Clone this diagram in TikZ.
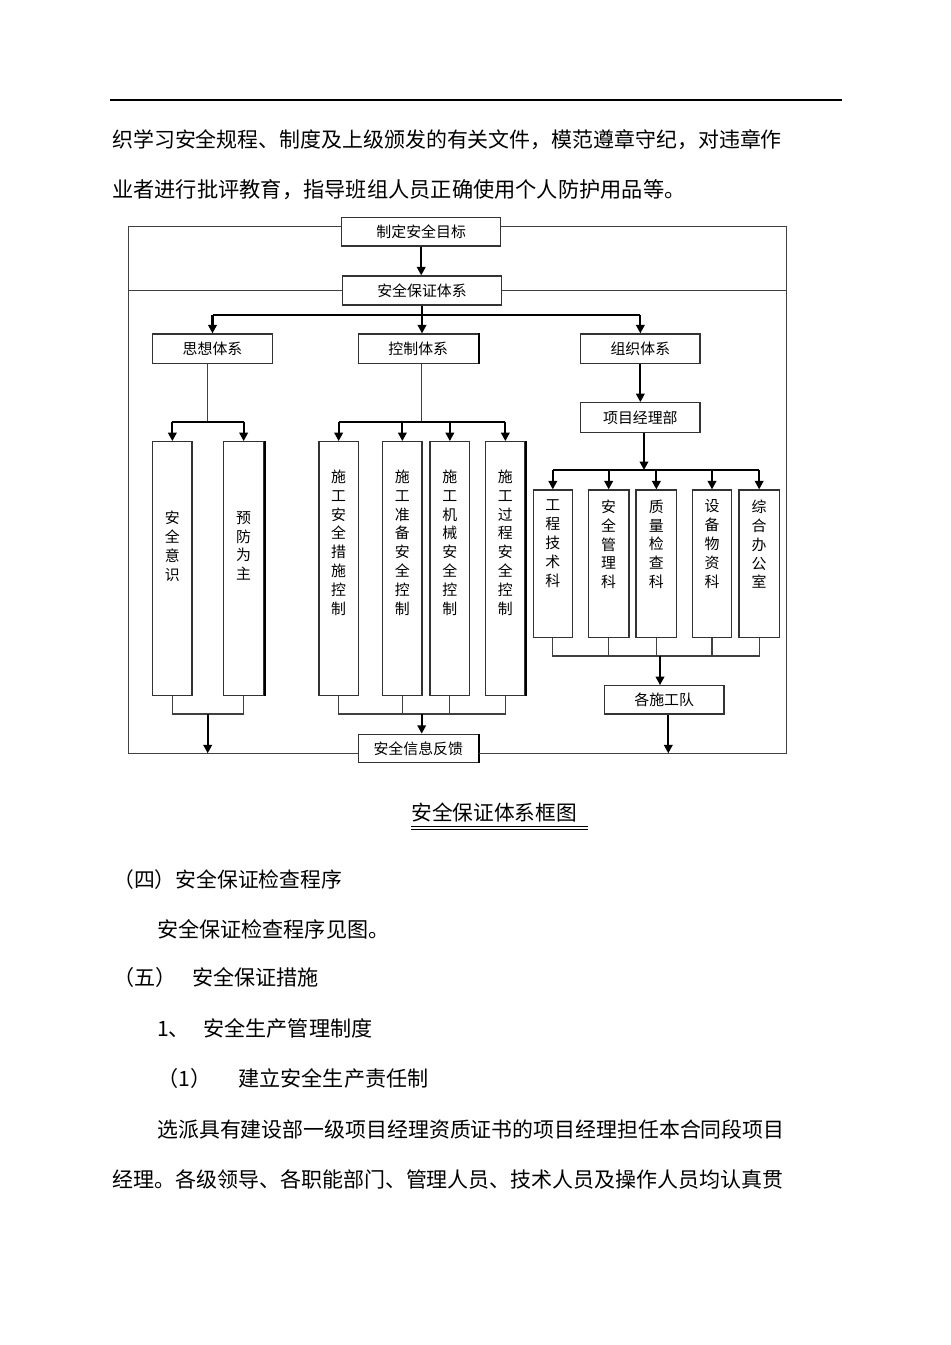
\documentclass[tikz,border=0pt]{standalone}
\usepackage{fontspec}
\newfontfamily\cjk{Noto Sans CJK SC}
\usetikzlibrary{positioning,fit,arrows.meta}

\tikzset{
  box/.style={draw=black!80, line width=0.85pt, inner sep=0pt, fit={#1}},
  lbl/.style={inner sep=0pt, font=\cjk\fontsize{10.6}{12}\selectfont},
  vtext/.style={align=center, inner sep=0pt, anchor=north,
    font=\cjk\fontsize{10.6}{13.45}\selectfont},
  edge/.style={draw=black, line width=1.4pt},
  thn/.style={draw=black!75, line width=0.75pt},
  thk/.style={draw=black, line width=1.6pt},
  arr/.style={-{Triangle[length=6pt,width=6pt]}},
  body/.style={anchor=west, inner sep=0pt, text height=12.8pt, text depth=2.2pt,
    font=\cjk\fontsize{#1}{18}\selectfont},
  body/.default=15
}

\begin{document}
\begin{tikzpicture}[x=0.025cm, y=-0.025cm]
  \useasboundingbox (0,0) rectangle (950,1345);

  % Kopflinie und Text davor
  \draw[line width=0.9pt] (110,100) -- (842,100);
  \node[body=14.88] (p1) at (112,140) {织学习安全规程、制度及上级颁发的有关文件，模范遵章守纪，对违章作};
  \node[body=15.1] (p2) at (112,190) {业者进行批评教育，指导班组人员正确使用个人防护用品等。};

  % Kaesten oben
  \node[box={(341.7,217.3) (500.7,246)}, label={[lbl]center:制定安全目标}] (goal) {};
  \node[box={(342.3,276) (501.7,305)}, label={[lbl]center:安全保证体系}] (sys) {};
  \node[box={(152.7,334) (272.3,363.3)}, label={[lbl]center:思想体系}] (think) {};
  \node[box={(358.3,334) (478.3,363.3)}, label={[lbl]center:控制体系}] (ctrl) {};
  \node[box={(580.7,334) (700,363.3)}, label={[lbl]center:组织体系}] (org) {};
  \node[box={(580.7,402.7) (700,432.3)}, label={[lbl]center:项目经理部}] (pm) {};

  % Spalten
  \node[box={(152.7,441.7) (192,695.3)}] (aware) {};
  \node[box={(223.3,441.7) (264,695.3)}] (prev) {};
  \node[box={(319,441.7) (358.3,695.3)}] (c1) {};
  \node[box={(382.7,441.7) (422,695.3)}] (c2) {};
  \node[box={(430,441.7) (469.7,695.3)}] (c3) {};
  \node[box={(485.7,441.7) (525,695.3)}] (c4) {};
  \node[box={(533.3,490) (572.3,637.3)}] (d1) {};
  \node[box={(588.3,490) (629,637.3)}] (d2) {};
  \node[box={(636,490) (676.7,637.3)}] (d3) {};
  \node[box={(692.3,490) (731.7,637.3)}] (d4) {};
  \node[box={(739,490) (779.3,637.3)}] (d5) {};

  \node[vtext, below=49.7pt of aware.north] (aware-t) {安\\全\\意\\识};
  \node[vtext, below=49.7pt of prev.north] (prev-t) {预\\防\\为\\主};
  \node[vtext, below=20.1pt of c1.north] (c1-t) {施\\工\\安\\全\\措\\施\\控\\制};
  \node[vtext, below=20.1pt of c2.north] (c2-t) {施\\工\\准\\备\\安\\全\\控\\制};
  \node[vtext, below=20.1pt of c3.north] (c3-t) {施\\工\\机\\械\\安\\全\\控\\制};
  \node[vtext, below=20.1pt of c4.north] (c4-t) {施\\工\\过\\程\\安\\全\\控\\制};
  \node[vtext, below=7.1pt of d1.north] (d1-t) {工\\程\\技\\术\\科};
  \node[vtext, below=7.1pt of d2.north] (d2-t) {安\\全\\管\\理\\科};
  \node[vtext, below=7.1pt of d3.north] (d3-t) {质\\量\\检\\查\\科};
  \node[vtext, below=7.1pt of d4.north] (d4-t) {设\\备\\物\\资\\科};
  \node[vtext, below=7.1pt of d5.north] (d5-t) {综\\合\\办\\公\\室};

  % Kaesten unten
  \node[box={(604.3,685.7) (724,714)}, label={[lbl]center:各施工队}] (team) {};
  \node[box={(358.3,734.3) (478.3,762.7)}, label={[lbl]center:安全信息反馈}] (fb) {};

  % dickere Kanten
  \draw[edge] (ctrl.north east) -- (ctrl.south east);
  \draw[edge] (prev.north east) -- (prev.south east);
  \draw[edge] (c4.north east) -- (c4.south east);
  \draw[edge] (fb.north east) -- (fb.south east);

  % Hilfspunkte
  \coordinate (ft) at (128.3,226.7);
  \coordinate (b1) at (421.7,315);
  \coordinate (b2) at (207.7,421.7);
  \coordinate (b3) at (421.7,421.7);
  \coordinate (b4) at (644,470);
  \coordinate (e1) at (207.7,714);
  \coordinate (e2) at (421.7,714);
  \coordinate (e3) at (660,656);
  \coordinate (e4) at (668.3,753.3);
  \coordinate (fl) at (128.3,753.3);
  \coordinate (fr) at (786.7,753.3);

  % Rahmen
  \draw[thn] (goal.west |- ft) -- (ft) -- (fl) -- (fb.west |- fl);
  \draw[thn] (fb.east |- fl) -- (fr) |- (goal.east |- ft);
  \draw[thn] (sys.west) -- (sys.west -| fl);
  \draw[thn] (sys.east) -- (sys.east -| fr);

  % Pfeile oben
  \draw[thk,arr] (goal.south) -- (goal.south |- sys.north);
  \draw[thk,arr] (sys.south) -- (sys.south |- ctrl.north);
  \draw[thk] (think.north |- b1) -- (org.north |- b1);
  \draw[thk,arr] (think.north |- b1) -- (think.north);
  \draw[thk,arr] (org.north |- b1) -- (org.north);

  % Gedanken
  \draw[thn] (think.south -| b2) -- (b2);
  \draw[thk] (aware.north |- b2) -- (prev.north |- b2);
  \foreach \n in {aware,prev}
    \draw[thk,arr] (\n.north |- b2) -- (\n.north);

  % Kontrolle
  \draw[thn] (ctrl.south -| b3) -- (b3);
  \draw[thk] (c1.north |- b3) -- (c4.north |- b3);
  \foreach \n in {c1,c2,c3,c4}
    \draw[thk,arr] (\n.north |- b3) -- (\n.north);

  % Organisation
  \draw[thk,arr] (org.south) -- (pm.north);
  \draw[thk,arr] (pm.south -| b4) -- (b4);
  \draw[thk] (d1.north |- b4) -- (d5.north |- b4);
  \foreach \n in {d1,d2,d3,d4,d5}
    \draw[thk,arr] (\n.north |- b4) -- (\n.north);

  % Rueckfuehrung unten
  \draw[thn] (aware.south) -- (aware.south |- e1) -- (prev.south |- e1) -- (prev.south);
  \draw[thk,arr] (e1) -- (e1 |- fl);
  \draw[thn] (c1.south) -- (c1.south |- e2) -- (c4.south |- e2) -- (c4.south);
  \foreach \n in {c2,c3}
    \draw[thn] (\n.south) -- (\n.south |- e2);
  \draw[thk,arr] (e2) -- (e2 |- fb.north);
  \draw[thn] (d1.south) -- (d1.south |- e3) -- (d5.south |- e3) -- (d5.south);
  \foreach \n in {d2,d3,d4}
    \draw[thn] (\n.south) -- (\n.south |- e3);
  \draw[thk,arr] (e3) -- (e3 |- team.north);
  \draw[thk,arr] (team.south -| e4) -- (e4);

  % Bildunterschrift
  \node[body=14.7] (cap) at (411.2,813) {安全保证体系框图};
  \draw[line width=0.6pt] (cap.west |- 0,826.4) -- (588.3,826.4);
  \draw[line width=0.6pt] (cap.west |- 0,829.4) -- (588.3,829.4);

  % Text danach
  \node[body=14.8] (h1) at (113,880) {（四）安全保证检查程序};
  \node[body] (h2) at (157,930) {安全保证检查程序见图。};
  \node[body] (h3) at (113,978) {\makebox[56pt][l]{（五）}安全保证措施};
  \node[body] (h4) at (157,1029) {\makebox[32.9pt][l]{1、}安全生产管理制度};
  \node[body] (h5) at (157,1079) {\makebox[57.8pt][l]{（1）}建立安全生产责任制};
  \node[body=14.87] (p3) at (157,1130) {选派具有建设部一级项目经理资质证书的项目经理担任本合同段项目};
  \node[body=14.92] (p4) at (112,1180) {经理。各级领导、各职能部门、管理人员、技术人员及操作人员均认真贯};
\end{tikzpicture}
\end{document}
